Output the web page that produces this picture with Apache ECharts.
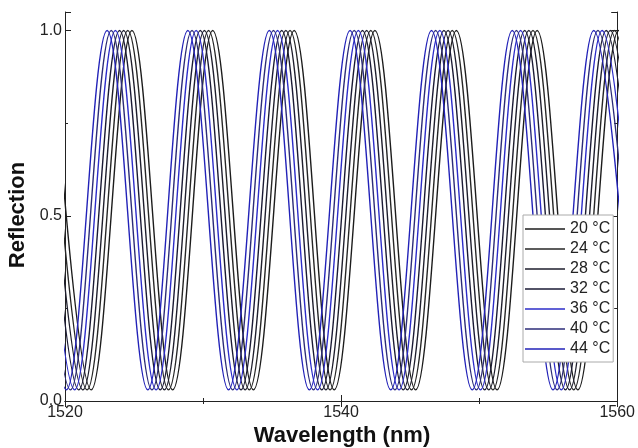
<!DOCTYPE html>
<html>
<head>
<meta charset="utf-8">
<script src="https://cdn.jsdelivr.net/npm/echarts@6/dist/echarts.min.js"></script>
<style>
html,body{margin:0;padding:0;background:#fff;}
#c{width:638px;height:448px;}
</style>
</head>
<body>
<div id="c"></div>
<script>
// ---- data ----
const seriesNames = ['20 °C', '24 °C', '28 °C', '32 °C', '36 °C', '40 °C', '44 °C'];
const seriesColors = ['#1c1c1c', '#262626', '#1e1e2c', '#1a1a34', '#2c2cc8', '#2c2c78', '#2222b8'];

// wavelength (nm) of reflection maxima and minima for each temperature
const peaks20C    = [1519.0, 1524.85, 1530.7, 1536.6, 1542.45, 1548.35, 1554.2, 1560.1];
const troughs20C  = [1521.9, 1527.8, 1533.65, 1539.5, 1545.4, 1551.3, 1557.15, 1563.05];
const peaks24C    = [1518.7, 1524.55, 1530.4, 1536.3, 1542.15, 1548.05, 1553.9, 1559.8];
const troughs24C  = [1521.6, 1527.5, 1533.35, 1539.2, 1545.1, 1551.0, 1556.85, 1562.75];
const peaks28C    = [1518.4, 1524.25, 1530.1, 1536.0, 1541.85, 1547.75, 1553.6, 1559.5];
const troughs28C  = [1521.3, 1527.2, 1533.05, 1538.9, 1544.8, 1550.7, 1556.55, 1562.45];
const peaks32C    = [1518.1, 1523.95, 1529.8, 1535.7, 1541.55, 1547.45, 1553.3, 1559.2];
const troughs32C  = [1521.0, 1526.9, 1532.75, 1538.6, 1544.5, 1550.4, 1556.25, 1562.15];
const peaks36C    = [1517.8, 1523.65, 1529.5, 1535.4, 1541.25, 1547.15, 1553.0, 1558.9];
const troughs36C  = [1520.7, 1526.6, 1532.45, 1538.3, 1544.2, 1550.1, 1555.95, 1561.85];
const peaks40C    = [1517.5, 1523.35, 1529.2, 1535.1, 1540.95, 1546.85, 1552.7, 1558.6];
const troughs40C  = [1520.4, 1526.3, 1532.15, 1538.0, 1543.9, 1549.8, 1555.65, 1561.55];
const peaks44C    = [1517.2, 1523.05, 1528.9, 1534.8, 1540.65, 1546.55, 1552.4, 1558.3];
const troughs44C  = [1520.1, 1526.0, 1531.85, 1537.7, 1543.6, 1549.5, 1555.35, 1561.25];

const peakReflection = 1.0;
const troughReflection = 0.03;

const xTickValues = [1520, 1540, 1560];
const xTickLabels = ['1520', '1540', '1560'];
const yTickValues = [0, 0.5, 1.0];
const yTickLabels = ['0.0', '0.5', '1.0'];
const xTitle = 'Wavelength (nm)';
const yTitle = 'Reflection';

// ---- build ----
const peakSets = [peaks20C, peaks24C, peaks28C, peaks32C, peaks36C, peaks40C, peaks44C];
const troughSets = [troughs20C, troughs24C, troughs28C, troughs32C, troughs36C, troughs40C, troughs44C];

function buildData(peaks, troughs) {
  const pts = peaks.map(w => [w, peakReflection]).concat(troughs.map(w => [w, troughReflection]));
  pts.sort((a, b) => a[0] - b[0]);
  return pts;
}

const FONT = '"Liberation Sans", Arial, sans-serif';

const series = seriesNames.map((name, i) => ({
  name: name,
  type: 'line',
  data: buildData(peakSets[i], troughSets[i]),
  smooth: 0.36,
  symbol: 'none',
  showSymbol: false,
  clip: true,
  lineStyle: { color: seriesColors[i], width: 1.4 },
  itemStyle: { color: seriesColors[i] },
  xAxisIndex: 0,
  yAxisIndex: 0
}));

const xLabelFmt = v => { const i = xTickValues.indexOf(Math.round(v)); return i >= 0 ? xTickLabels[i] : ''; };
const yLabelFmt = v => { const i = yTickValues.indexOf(Math.round(v * 100) / 100); return i >= 0 ? yTickLabels[i] : ''; };

const axisLine = { show: true, lineStyle: { color: '#222', width: 1 } };

const option = {
  animation: false,
  backgroundColor: '#fff',
  grid: { left: 65, right: 20, top: 12, bottom: 47, containLabel: false },
  legend: {
    orient: 'vertical',
    left: 523,
    top: 215,
    icon: 'rect',
    itemWidth: 40,
    itemHeight: 1.5,
    itemGap: 2,
    padding: [5, 3, 4, 2],
    borderColor: '#aaa',
    borderWidth: 1,
    backgroundColor: '#fff',
    textStyle: { fontFamily: FONT, fontSize: 16, color: '#222', lineHeight: 18 },
    data: seriesNames
  },
  graphic: [
    {
      type: 'text',
      x: 342, y: 436,
      style: { text: xTitle, font: 'bold 22px ' + FONT, fill: '#111', textAlign: 'center', textVerticalAlign: 'middle' }
    },
    {
      type: 'text',
      x: 18, y: 215, rotation: Math.PI / 2,
      style: { text: yTitle, font: 'bold 22px ' + FONT, fill: '#111', textAlign: 'center', textVerticalAlign: 'middle' }
    }
  ],
  xAxis: [
    {
      type: 'value', position: 'bottom', min: 1520, max: 1560, interval: 20,
      axisLine: axisLine,
      axisTick: { show: true, inside: true, length: 6, lineStyle: { color: '#222' } },
      minorTick: { show: true, splitNumber: 2, length: 3, lineStyle: { color: '#222' } },
      axisLabel: { fontFamily: FONT, fontSize: 16, color: '#222', margin: 4, formatter: xLabelFmt },
      splitLine: { show: false }
    },
    {
      type: 'value', position: 'top', min: 1520, max: 1560, interval: 20,
      axisLine: axisLine,
      axisTick: { show: true, inside: true, length: 6, lineStyle: { color: '#222' } },
      minorTick: { show: true, splitNumber: 2, length: 3, lineStyle: { color: '#222' } },
      axisLabel: { show: false },
      splitLine: { show: false }
    }
  ],
  yAxis: [
    {
      type: 'value', position: 'left', min: 0, max: 1.05, interval: 0.5,
      axisLine: axisLine,
      axisTick: { show: true, inside: true, length: 6, lineStyle: { color: '#222' } },
      minorTick: { show: true, splitNumber: 2, length: 3, lineStyle: { color: '#222' } },
      axisLabel: { fontFamily: FONT, fontSize: 16, color: '#222', margin: 3, formatter: yLabelFmt },
      splitLine: { show: false }
    },
    {
      type: 'value', position: 'right', min: 0, max: 1.05, interval: 0.5,
      axisLine: axisLine,
      axisTick: { show: true, inside: true, length: 6, lineStyle: { color: '#222' } },
      minorTick: { show: true, splitNumber: 2, length: 3, lineStyle: { color: '#222' } },
      axisLabel: { show: false },
      splitLine: { show: false }
    }
  ],
  series: series
};

const chart = echarts.init(document.getElementById('c'), null, { renderer: 'canvas', width: 638, height: 448 });
chart.setOption(option);
</script>
</body>
</html>
